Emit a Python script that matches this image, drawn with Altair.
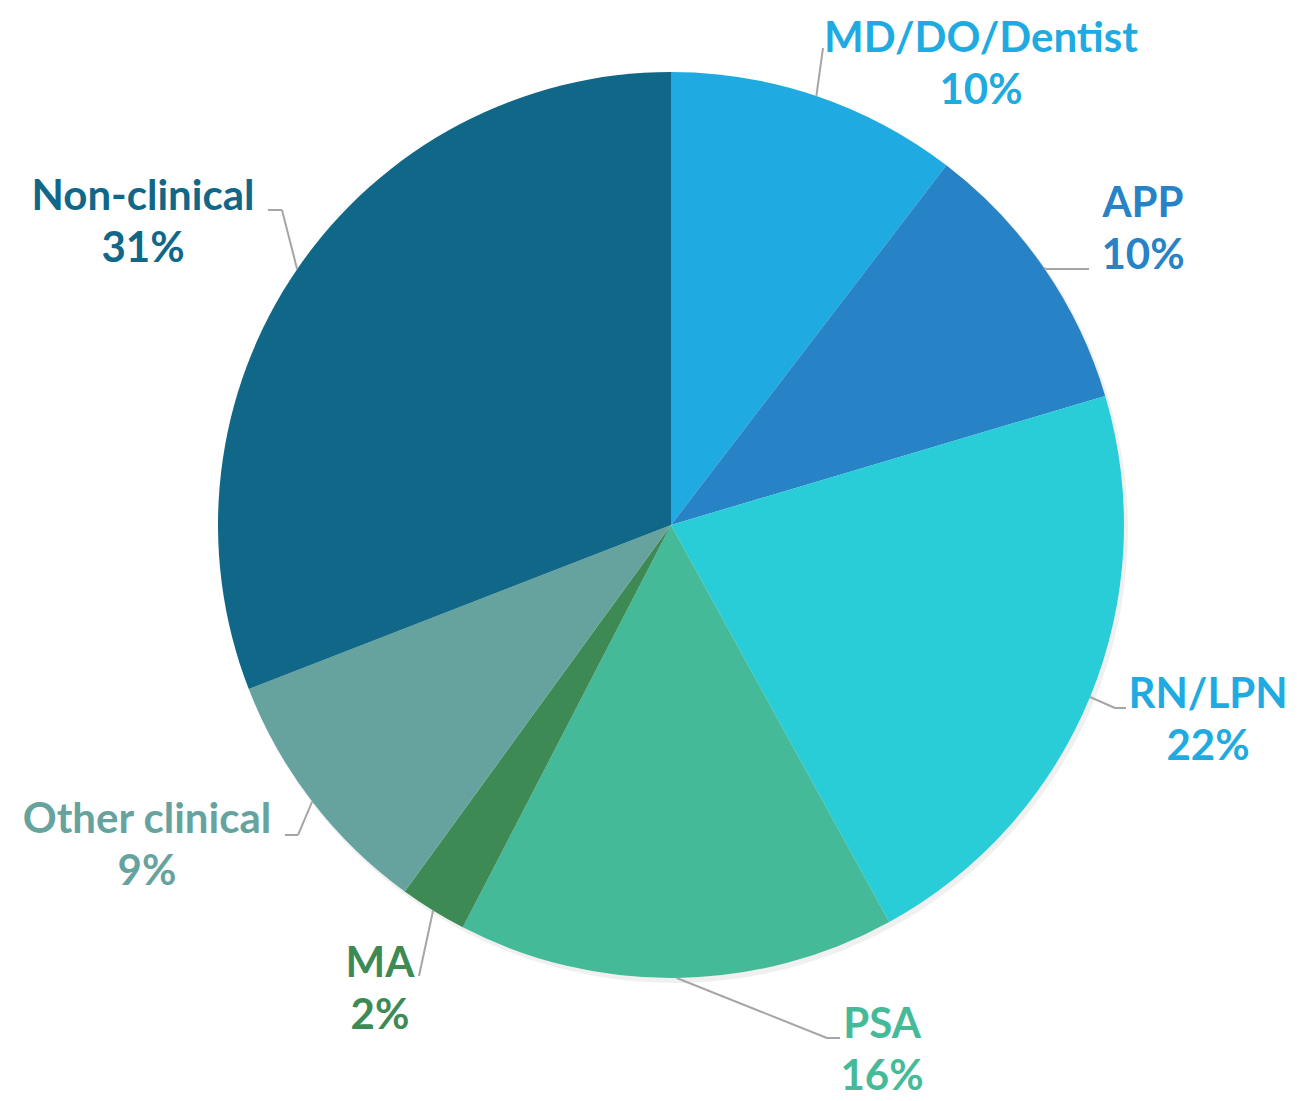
import math
import altair as alt
import pandas as pd

# ---- data ----
categories = ["MD/DO/Dentist", "APP", "RN/LPN", "PSA", "MA", "Other clinical", "Non-clinical"]
values = [10.4, 10.0, 21.6, 15.6, 2.4, 9.1, 30.9]
slice_colors = ["#1FABE2", "#2783C6", "#29CDD8", "#45BA98", "#3E8A55", "#66A39E", "#106788"]
label_colors = ["#1FABE2", "#2783C6", "#1FABE2", "#45BA98", "#3E8A55", "#66A39E", "#106788"]

# ---- layout (chart pixel coords) ----
CX, CY, R = 663, 517, 453
FONT = "Lato"
FS = 42
LINE_GAP = 52
# (elbow_x, elbow_y, end_x, end_y, text_x, text_baseline_y)
label_layout = [
    (815, 40, 815, 40, 973, 44),
    (1038, 261, 1081, 261, 1135, 209),
    (1107, 700, 1118, 700, 1200, 700),
    (819, 1030, 832, 1030, 874, 1030),
    (411, 968, 411, 968, 372, 969),
    (290, 827, 277, 827, 139, 825),
    (274, 202, 260, 202, 135, 202),
]

total = sum(values)
pie_df = pd.DataFrame({"category": categories, "value": values, "order": list(range(len(values)))})

rows_seg = []
rows_txt = []
cum = 0.0
for i, (c, v) in enumerate(zip(categories, values)):
    mid = (cum + v / 2) / total * 2 * math.pi
    cum += v
    ex = CX + R * math.sin(mid)
    ey = CY - R * math.cos(mid)
    bx, by, tx, ty, lx, ly = label_layout[i]
    rows_seg.append({"x": ex, "y": ey, "x2": bx, "y2": by})
    rows_seg.append({"x": bx, "y": by, "x2": tx, "y2": ty})
    rows_txt.append({"category": c, "text": c, "x": lx, "y": ly})
    rows_txt.append({"category": c, "text": f"{round(v)}%", "x": lx, "y": ly + LINE_GAP})

seg_df = pd.DataFrame(rows_seg)
txt_df = pd.DataFrame(rows_txt)

color_scale = alt.Scale(domain=categories, range=slice_colors)
label_scale = alt.Scale(domain=categories, range=label_colors)

shadow = alt.Chart(pie_df).mark_arc(radius=R + 1, color="#000000", opacity=0.06).encode(
    theta=alt.Theta("value:Q", stack=True),
    order=alt.Order("order:Q"),
    x=alt.value(CX + 3),
    y=alt.value(CY + 4),
)

pie = alt.Chart(pie_df).mark_arc(radius=R).encode(
    theta=alt.Theta("value:Q", stack=True),
    order=alt.Order("order:Q"),
    color=alt.Color("category:N", scale=color_scale, legend=None),
    x=alt.value(CX),
    y=alt.value(CY),
)

leaders = alt.Chart(seg_df).mark_rule(color="#A6A6A6", strokeWidth=2).encode(
    x=alt.X("x:Q", scale=None, axis=None),
    y=alt.Y("y:Q", scale=None, axis=None),
    x2="x2:Q",
    y2="y2:Q",
)

labels = alt.Chart(txt_df).mark_text(
    font=FONT, fontSize=FS, fontWeight="bold", align="center", baseline="alphabetic"
).encode(
    x=alt.X("x:Q", scale=None, axis=None),
    y=alt.Y("y:Q", scale=None, axis=None),
    text="text:N",
    color=alt.Color("category:N", scale=label_scale, legend=None),
)

chart = alt.layer(shadow, pie, leaders, labels).resolve_scale(color="independent").properties(
    width=1290, height=1093, padding=0, autosize=alt.AutoSizeParams(type="none")
).configure_view(stroke=None)

chart.save("out.html", embed_options={"renderer": "svg", "actions": False})
